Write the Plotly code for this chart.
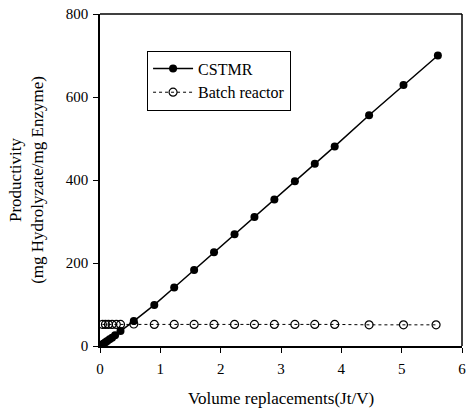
import plotly.graph_objects as go

cstmr_x = [0, 0.02, 0.04, 0.06, 0.09, 0.12, 0.16, 0.2, 0.25, 0.34, 0.56, 0.9, 1.23, 1.56,
           1.89, 2.23, 2.56, 2.89, 3.23, 3.56, 3.89, 4.46, 5.03, 5.6]
cstmr_y = [0, 2, 4, 6, 9, 12, 16, 20, 26, 36, 60, 99, 141, 183,
           226, 269, 311, 353, 397, 439, 481, 556, 629, 700]

batch_x = [0.04, 0.09, 0.14, 0.2, 0.27, 0.34, 0.56, 0.9, 1.23, 1.56, 1.89, 2.23, 2.56,
           2.89, 3.23, 3.56, 3.89, 4.46, 5.03, 5.57]
batch_y = [52, 52, 52, 52, 52, 52, 53, 52, 52, 52, 52, 52, 52,
           52, 52, 52, 52, 51, 51, 51]

x_ticks = [0, 1, 2, 3, 4, 5, 6]
y_ticks = [0, 200, 400, 600, 800]

font = "Liberation Serif"

fig = go.Figure()
fig.add_trace(go.Scatter(
    x=cstmr_x, y=cstmr_y, name="CSTMR", mode="lines+markers",
    line=dict(color="black", width=1.5),
    marker=dict(symbol="circle", size=8, color="black"),
))
fig.add_trace(go.Scatter(
    x=batch_x, y=batch_y, name="Batch reactor", mode="lines+markers",
    line=dict(color="black", width=1, dash="dot"),
    marker=dict(symbol="circle-open", size=8, color="black", line=dict(width=1.2)),
))

axis_common = dict(
    showgrid=False, zeroline=False, showline=True, linecolor="black", linewidth=1.5,
    ticks="outside", ticklen=5, tickcolor="black", tickwidth=1,
    tickfont=dict(family=font, size=15, color="black"), mirror=False,
)

fig.update_layout(
    width=472, height=412,
    margin=dict(l=100, r=6, t=13, b=66),
    paper_bgcolor="white", plot_bgcolor="white",
    font=dict(family=font, color="black"),
    showlegend=True,
    legend=dict(
        x=0.13, y=0.89, xanchor="left", yanchor="top",
        bordercolor="black", borderwidth=1, bgcolor="white",
        font=dict(family=font, size=16, color="black"),
        itemwidth=40, tracegroupgap=0,
    ),
    xaxis=dict(range=[0, 6], tickvals=x_ticks, ticktext=[str(v) for v in x_ticks],
               ticklabelstandoff=3,
               title=dict(text="Volume replacements(Jt/V)", font=dict(family=font, size=17),
                          standoff=16),
               **axis_common),
    yaxis=dict(range=[0, 800], tickvals=y_ticks, ticktext=[str(v) for v in y_ticks],
               ticklabelstandoff=2,
               title=dict(text="Productivity<br>(mg Hydrolyzate/mg Enzyme)",
                          font=dict(family=font, size=17), standoff=18),
               **axis_common),
)

# frame lines on top and right
fig.add_shape(type="line", xref="paper", yref="paper", x0=0, x1=1, y0=1, y1=1,
              line=dict(color="black", width=1.5))
fig.add_shape(type="line", xref="paper", yref="paper", x0=1, x1=1, y0=0, y1=1,
              line=dict(color="black", width=1.5))

fig.write_html("out.html")
